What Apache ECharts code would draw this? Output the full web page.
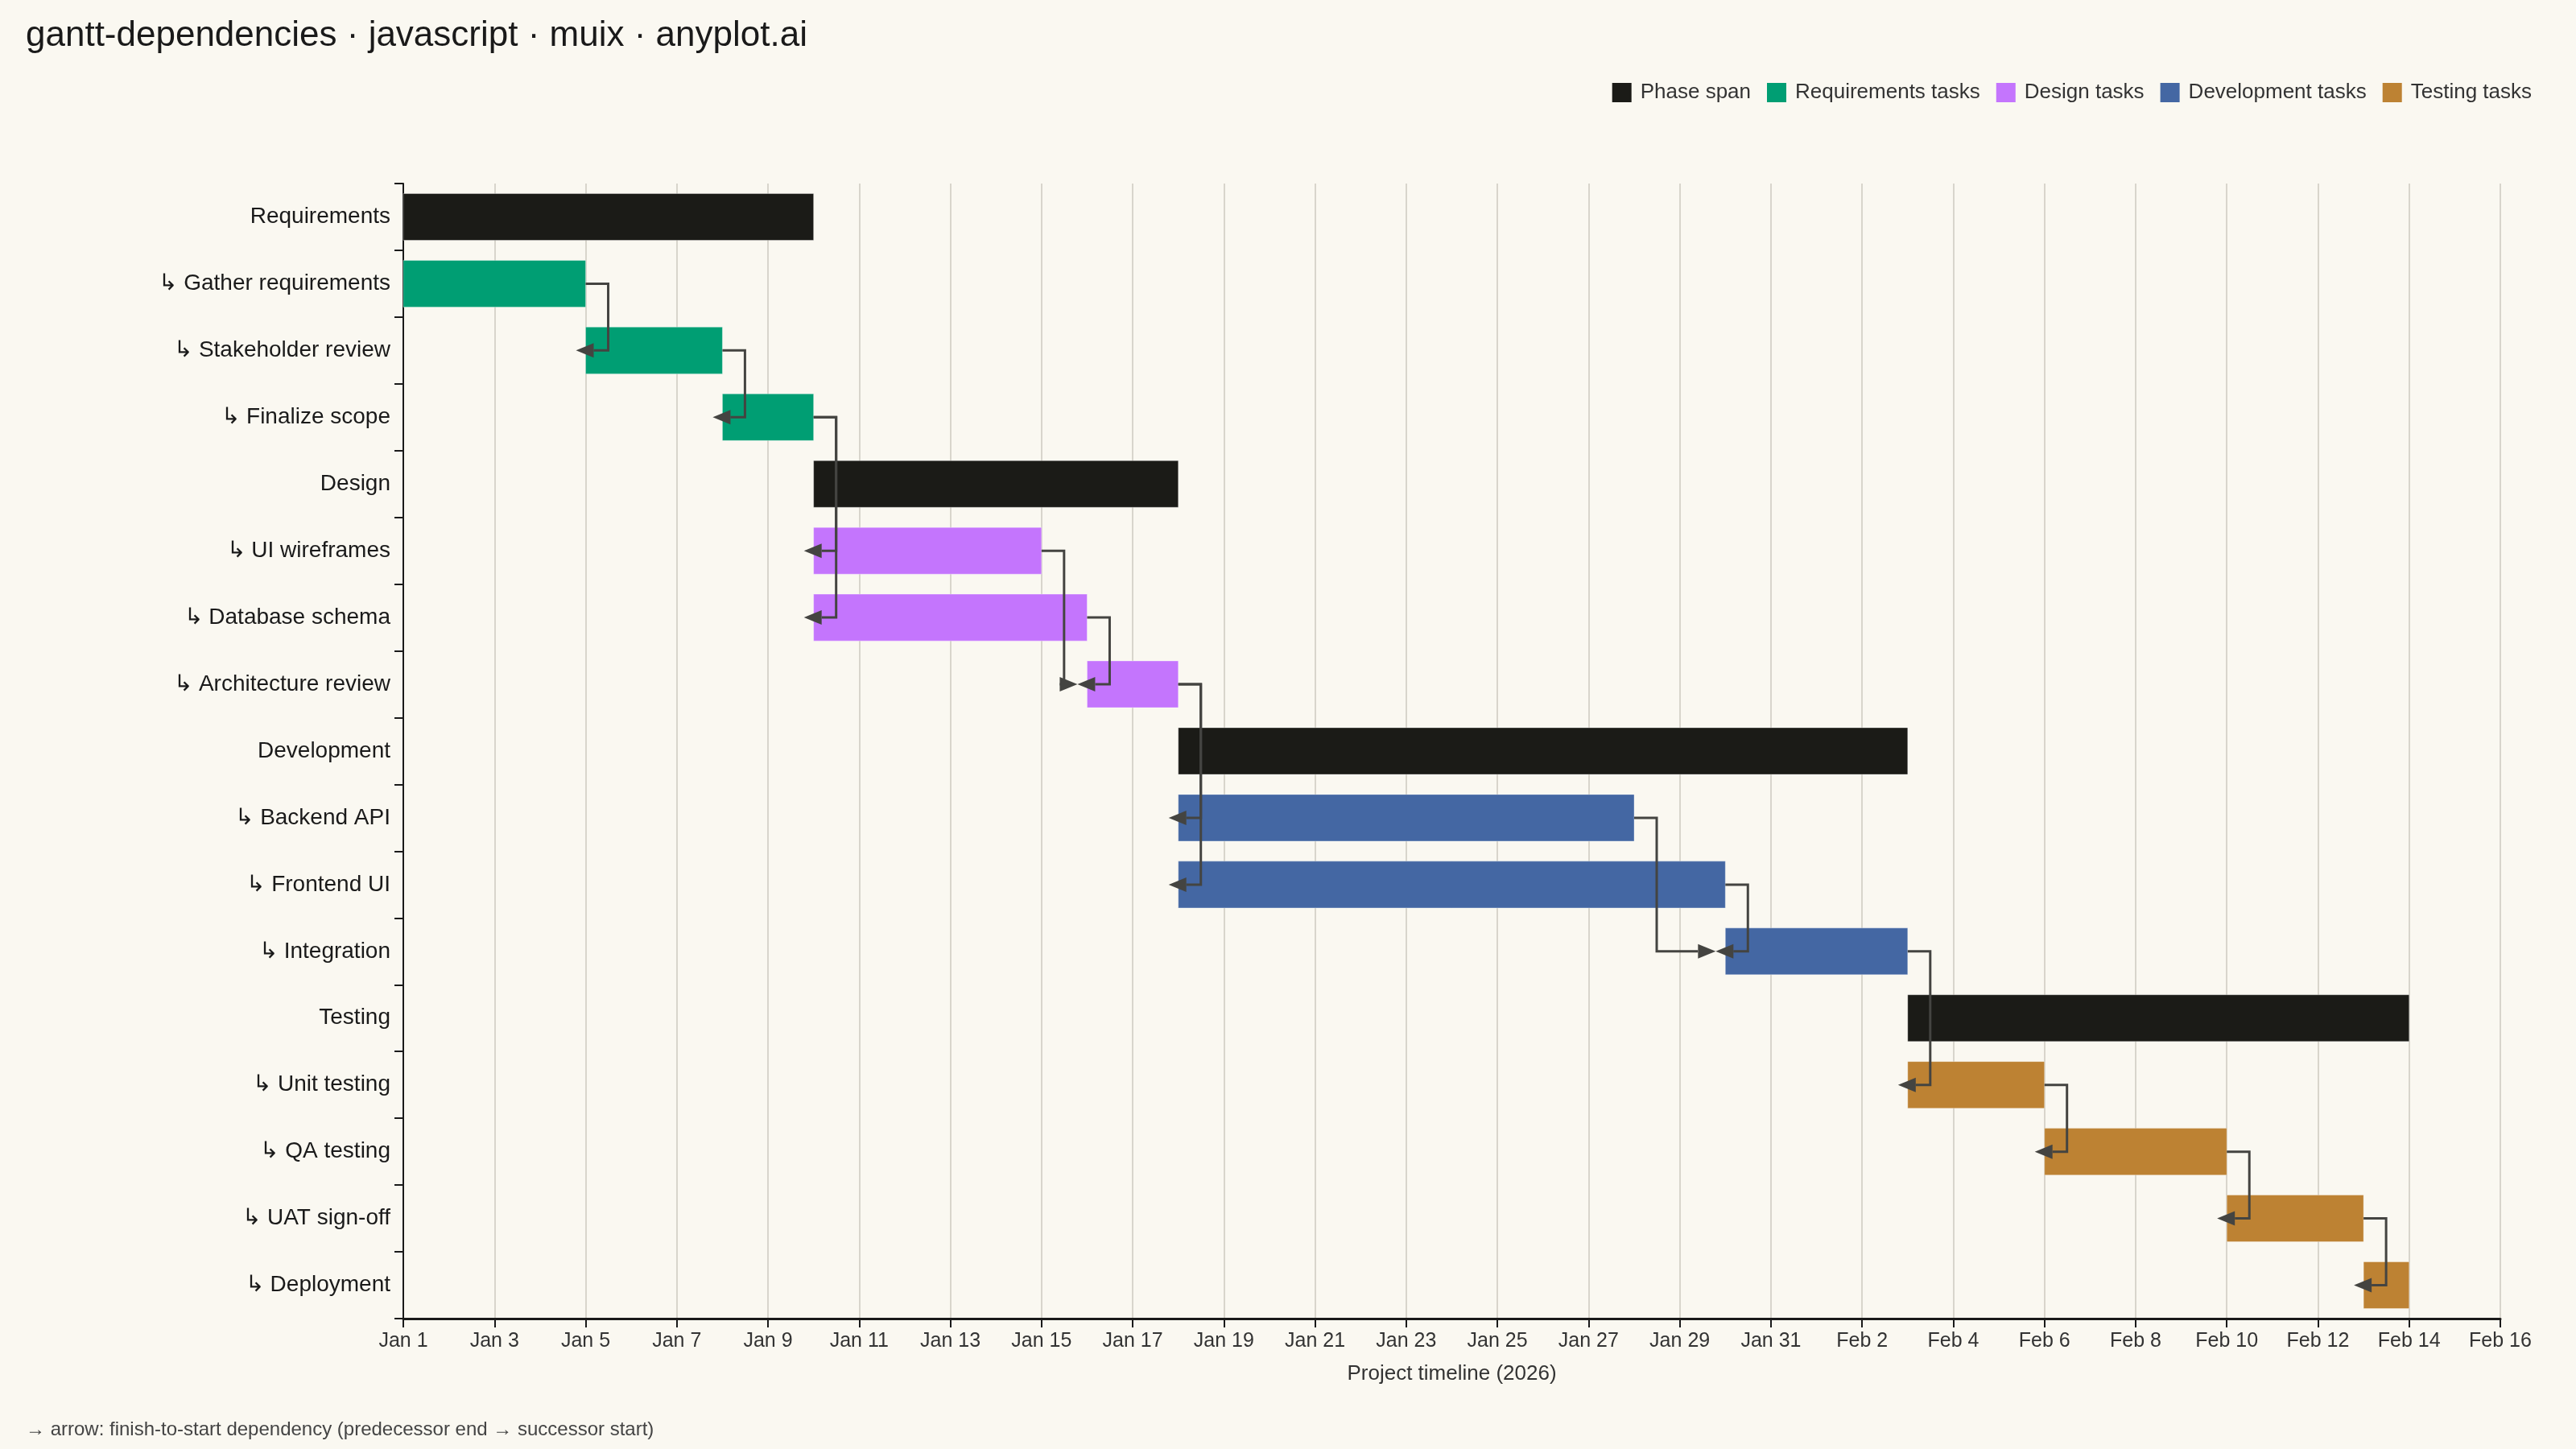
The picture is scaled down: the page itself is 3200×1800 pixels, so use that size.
<!DOCTYPE html>
<html>
<head>
<meta charset="utf-8">
<script src="https://cdn.jsdelivr.net/npm/echarts@6/dist/echarts.min.js"></script>
<style>
  html, body { margin: 0; padding: 0; background: #FAF8F1; }
  #main { width: 3200px; height: 1800px; }
</style>
</head>
<body>
<div id="main"></div>
<script>
// rows top to bottom
var rowLabels = ['Requirements', '↳ Gather requirements', '↳ Stakeholder review', '↳ Finalize scope',
    'Design', '↳ UI wireframes', '↳ Database schema', '↳ Architecture review',
    'Development', '↳ Backend API', '↳ Frontend UI', '↳ Integration',
    'Testing', '↳ Unit testing', '↳ QA testing', '↳ UAT sign-off', '↳ Deployment'];
// 0 = phase span, 1..4 = task groups
var rowGroups = [0, 1, 1, 1, 0, 2, 2, 2, 0, 3, 3, 3, 0, 4, 4, 4, 4];
var startDates = ['2026-01-01', '2026-01-01', '2026-01-05', '2026-01-08',
    '2026-01-10', '2026-01-10', '2026-01-10', '2026-01-16',
    '2026-01-18', '2026-01-18', '2026-01-18', '2026-01-30',
    '2026-02-03', '2026-02-03', '2026-02-06', '2026-02-10', '2026-02-13'];
var endDates = ['2026-01-10', '2026-01-05', '2026-01-08', '2026-01-10',
    '2026-01-18', '2026-01-15', '2026-01-16', '2026-01-18',
    '2026-02-03', '2026-01-28', '2026-01-30', '2026-02-03',
    '2026-02-14', '2026-02-06', '2026-02-10', '2026-02-13', '2026-02-14'];
// finish-to-start: [predecessor row, successor row]
var dependencies = [[1, 2], [2, 3], [3, 5], [3, 6], [5, 7], [6, 7], [7, 9], [7, 10],
    [9, 11], [10, 11], [11, 13], [13, 14], [14, 15], [15, 16]];
var groupNames = ['Phase span', 'Requirements tasks', 'Design tasks', 'Development tasks', 'Testing tasks'];
var groupColors = ['#1B1B17', '#009E73', '#C475FD', '#4467A3', '#BD8233'];
var axisStart = '2026-01-01';
var axisEnd = '2026-02-16';

var DAY = 86400000;
var MONTHS = ['Jan', 'Feb', 'Mar', 'Apr', 'May', 'Jun', 'Jul', 'Aug', 'Sep', 'Oct', 'Nov', 'Dec'];
var t0 = Date.parse(axisStart + 'T00:00:00Z');
function dayOf(s) { return (Date.parse(s + 'T00:00:00Z') - t0) / DAY; }
function fmtDay(v) {
    var d = new Date(t0 + v * DAY);
    return MONTHS[d.getUTCMonth()] + ' ' + d.getUTCDate();
}

var FONT = 'Liberation Sans, Arial, Helvetica, sans-serif';

function renderBar(params, api) {
    var s = api.coord([api.value(1), api.value(0)]);
    var e = api.coord([api.value(2), api.value(0)]);
    var h = api.size([0, 1])[1] * 0.7;
    return {
        type: 'rect',
        shape: { x: s[0], y: s[1] - h / 2, width: e[0] - s[0], height: h },
        style: { fill: api.visual('color'), stroke: 'rgba(255,255,255,0.35)', lineWidth: 1 }
    };
}

function renderDep(params, api) {
    var p1 = api.coord([api.value(0), api.value(1)]);
    var p2 = api.coord([api.value(2), api.value(3)]);
    var ex = p1[0] + 28;
    var tipX = p2[0] - 12;
    var y = p2[1];
    var baseX = tipX >= ex ? tipX - 22 : tipX + 22;
    return {
        type: 'group',
        children: [{
            type: 'polyline',
            shape: { points: [[p1[0], p1[1]], [ex, p1[1]], [ex, y], [baseX, y]] },
            style: { stroke: '#444441', lineWidth: 3, fill: null }
        }, {
            type: 'polygon',
            shape: { points: [[tipX, y], [baseX, y - 9], [baseX, y + 9]] },
            style: { fill: '#444441' }
        }]
    };
}

var series = groupNames.map(function (name, g) {
    var data = [];
    for (var i = 0; i < rowLabels.length; i++) {
        if (rowGroups[i] === g) data.push([i, dayOf(startDates[i]), dayOf(endDates[i])]);
    }
    return {
        name: name,
        type: 'custom',
        renderItem: renderBar,
        itemStyle: { color: groupColors[g] },
        encode: { x: [1, 2], y: 0 },
        data: data,
        z: 2
    };
});

series.push({
    name: 'deps',
    type: 'custom',
    renderItem: renderDep,
    encode: { x: [0, 2], y: [1, 3] },
    data: dependencies.map(function (d) {
        return [dayOf(endDates[d[0]]), d[0], dayOf(startDates[d[1]]), d[1]];
    }),
    silent: true,
    z: 5
});

var myChart = echarts.init(document.getElementById('main'));
var option = {
    backgroundColor: '#FAF8F1',
    animation: false,
    textStyle: { fontFamily: FONT },
    title: {
        text: 'gantt-dependencies · javascript · muix · anyplot.ai',
        left: 27,
        top: 18,
        textStyle: { fontSize: 44, fontWeight: 'normal', color: '#1a1a1a', fontFamily: FONT }
    },
    legend: {
        data: groupNames,
        right: 50,
        top: 97,
        icon: 'rect',
        itemWidth: 24,
        itemHeight: 24,
        itemGap: 20,
        textStyle: { fontSize: 26, color: '#333', fontFamily: FONT, padding: [0, 0, 0, 6] }
    },
    grid: { left: 501, right: 94, top: 228, bottom: 162 },
    xAxis: {
        type: 'value',
        min: dayOf(axisStart),
        max: dayOf(axisEnd),
        interval: 2,
        name: 'Project timeline (2026)',
        nameLocation: 'middle',
        nameGap: 56,
        nameTextStyle: { fontSize: 26, color: '#333', fontFamily: FONT },
        axisLine: { show: true, lineStyle: { color: '#1a1a1a', width: 3 } },
        axisTick: { show: true, length: 11, lineStyle: { color: '#1a1a1a', width: 2 } },
        axisLabel: { formatter: fmtDay, fontSize: 25, color: '#333', margin: 16, fontFamily: FONT },
        splitLine: { show: true, lineStyle: { color: '#d8d5cc', width: 2 } }
    },
    yAxis: {
        type: 'category',
        data: rowLabels,
        inverse: true,
        axisLine: { show: true, lineStyle: { color: '#1a1a1a', width: 2 } },
        axisTick: { show: true, length: 11, lineStyle: { color: '#1a1a1a', width: 2 } },
        axisLabel: { fontSize: 28, color: '#1a1a1a', margin: 16, fontFamily: FONT },
        splitLine: { show: false }
    },
    graphic: [{
        type: 'text',
        left: 32,
        top: 1764,
        style: {
            text: '→ arrow: finish-to-start dependency (predecessor end → successor start)',
            fontSize: 24,
            fill: '#444',
            fontFamily: FONT
        }
    }],
    series: series
};
myChart.setOption(option);
</script>
</body>
</html>
